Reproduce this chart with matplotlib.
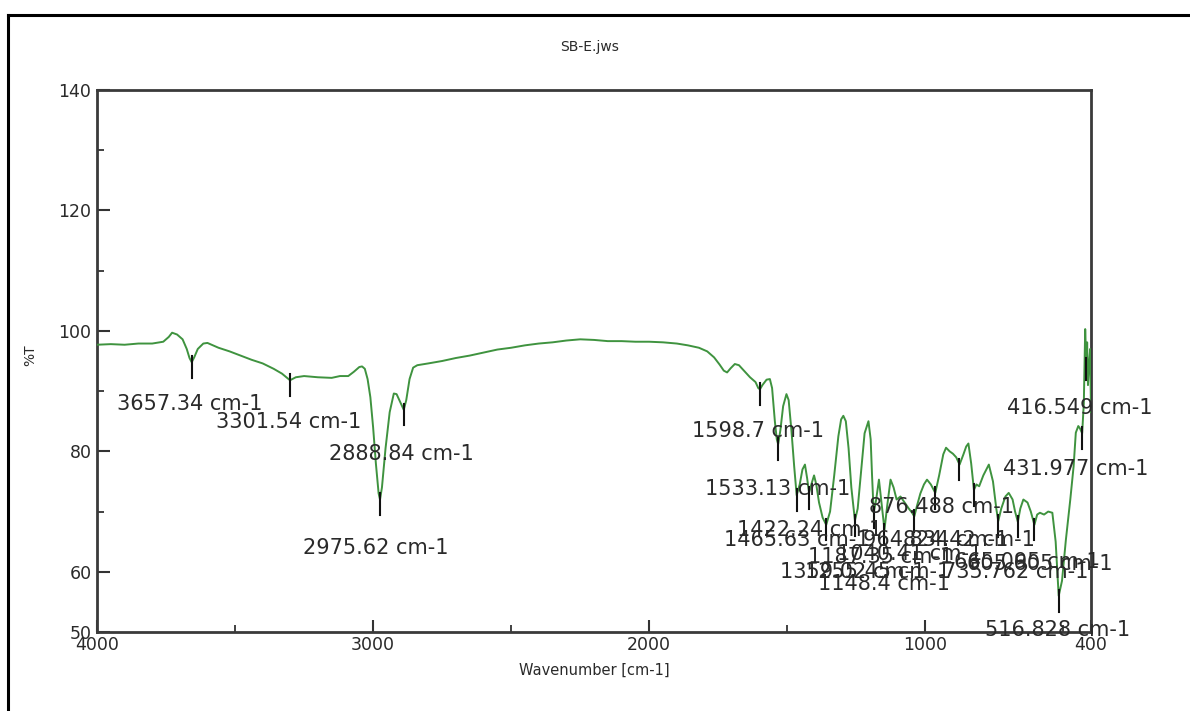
import matplotlib
matplotlib.use("Agg")
import matplotlib.pyplot as plt
from matplotlib.lines import Line2D
from matplotlib.ticker import FixedLocator

# ---------------- data ----------------
wavenumber = [4000, 3950, 3900, 3850, 3800, 3760, 3740, 3728, 3710, 3690, 3675, 3665, 3657,
              3648, 3635, 3615, 3600, 3560, 3520, 3480, 3440, 3400, 3360, 3330, 3301, 3280,
              3250, 3200, 3150, 3120, 3090, 3070, 3050, 3040, 3030, 3020, 3010, 3000, 2990,
              2980, 2975, 2968, 2955, 2940, 2925, 2915, 2900, 2889, 2880, 2868, 2855, 2840,
              2800, 2750, 2700, 2650, 2600, 2550, 2500, 2450, 2400, 2350, 2300, 2250, 2200,
              2150, 2100, 2050, 2000, 1950, 1900, 1860, 1820, 1790, 1765, 1745, 1730, 1718,
              1705, 1690, 1675, 1655, 1635, 1615, 1605, 1599, 1590, 1575, 1563, 1555, 1545,
              1538, 1533, 1525, 1515, 1503, 1495, 1485, 1475, 1466, 1455, 1445, 1436, 1428,
              1421, 1413, 1403, 1395, 1385, 1372, 1359, 1345, 1330, 1315, 1305, 1297, 1288,
              1278, 1268, 1255, 1245, 1232, 1220, 1206, 1198, 1193, 1187, 1178, 1168, 1160,
              1148, 1138, 1126, 1115, 1104, 1090, 1075, 1060, 1048, 1040, 1030, 1018, 1005,
              994, 980, 964, 950, 935, 925, 912, 900, 888, 876, 862, 852, 844, 834, 824, 815,
              805, 790, 770, 755, 743, 736, 725, 710, 698, 684, 675, 665, 656, 645, 630, 618,
              605, 595, 585, 570, 555, 540, 528, 517, 505, 491, 475, 463, 455, 446, 440, 432,
              426, 421, 418, 416, 414, 411, 407, 403, 400]
transmittance = [97.7, 97.8, 97.7, 97.9, 97.9, 98.2, 99.0, 99.7, 99.4, 98.6, 97.0, 95.5, 94.8,
                 95.6, 97.0, 97.9, 98.0, 97.2, 96.6, 95.9, 95.2, 94.6, 93.7, 92.9, 91.8, 92.3,
                 92.5, 92.3, 92.2, 92.5, 92.5, 93.2, 94.0, 94.1, 93.7, 92.0, 89.0, 84.0, 78.0,
                 73.0, 72.0, 74.0, 80.5, 86.5, 89.6, 89.5, 88.0, 86.9, 88.5, 92.0, 93.9, 94.3,
                 94.6, 95.0, 95.5, 95.9, 96.4, 96.9, 97.2, 97.6, 97.9, 98.1, 98.4, 98.6, 98.5,
                 98.3, 98.3, 98.2, 98.2, 98.1, 97.9, 97.6, 97.2, 96.6, 95.6, 94.4, 93.4, 93.1,
                 93.8, 94.5, 94.3, 93.3, 92.3, 91.5, 90.5, 90.3, 91.0, 91.9, 92.0, 90.5, 85.0,
                 82.0, 81.2, 83.5, 87.5, 89.5, 88.5, 83.5, 77.5, 72.7, 74.5, 77.0, 77.8, 75.5,
                 73.1, 74.5, 76.0, 74.5, 71.5, 69.0, 67.8, 70.0, 76.0, 82.5, 85.3, 85.9, 85.0,
                 80.5, 74.0, 68.5, 70.5, 77.0, 83.0, 85.0, 82.0, 76.0, 69.8, 72.0, 75.3, 72.0,
                 67.0, 71.0, 75.3, 74.0, 72.0, 72.5, 71.5, 70.5, 69.8, 69.2, 71.0, 73.0, 74.5,
                 75.3, 74.5, 73.1, 76.0, 79.5, 80.6, 80.0, 79.6, 79.0, 77.8, 79.5, 80.8, 81.3,
                 78.0, 73.6, 74.5, 74.2, 76.0, 77.8, 75.0, 70.5, 68.4, 70.5, 72.5, 73.1, 72.0,
                 70.0, 68.3, 70.5, 72.0, 71.5, 70.0, 67.8, 69.5, 69.8, 69.5, 70.0, 69.8, 65.0,
                 56.0, 58.5, 65.3, 72.0, 77.5, 83.1, 84.2, 83.8, 83.0, 88.0, 100.3, 96.0, 94.2,
                 98.1, 91.0, 94.5, 97.0, 86.5]

peak_wn = [3657.34, 3301.54, 2975.62, 2888.84, 1598.7, 1533.13, 1465.63, 1422.24, 1359.02,
           1255.45, 1187.35, 1148.4, 1040.41, 964.834, 876.488, 824.42, 735.762, 665.095,
           605.605, 516.828, 431.977, 416.549]
peak_T = [94.8, 91.8, 72.0, 86.9, 90.3, 81.2, 72.7, 73.1, 67.8, 68.5, 69.8, 67.0, 69.2,
          73.1, 77.8, 73.6, 68.4, 68.3, 67.8, 56.0, 83.0, 94.5]
peak_labels = ["3657.34 cm-1", "3301.54 cm-1", "2975.62 cm-1", "2888.84 cm-1", "1598.7 cm-1",
               "1533.13 cm-1", "1465.63 cm-1", "1422.24 cm-1", "1359.02 cm-1", "1255.45 cm-1",
               "1187.35 cm-1", "1148.4 cm-1", "1040.41 cm-1", "964.834 cm-1", "876.488 cm-1",
               "824.42 cm-1", "735.762 cm-1", "665.095 cm-1", "605.605 cm-1", "516.828 cm-1",
               "431.977 cm-1", "416.549 cm-1"]

x_ticks = [4000, 3000, 2000, 1000, 400]
x_minor = [3500, 2500, 1500, 500]
y_ticks = [50, 60, 80, 100, 120, 140]
y_minor = [70, 90, 110, 130]

# label anchor positions (data coords, left/center anchored)
label_pos = [(3928, 87.8), (3569, 84.8), (3254, 64.0), (3160, 79.5), (1845, 83.3),
             (1798, 73.7), (1729, 65.3), (1682, 67.0), (1526, 60.0), (1436, 60.0),
             (1425, 62.5), (1389, 58.0), (1320, 63.0), (1226, 65.3), (1205, 70.7),
             (1080, 65.3), (935, 60.0), (895, 61.7), (850, 61.3), (784, 50.4),
             (719, 77.0), (704, 87.2)]

# ---------------- figure ----------------
W, H = 1190, 711
fig = plt.figure(figsize=(W / 100, H / 100), dpi=100)
fig.patch.set_facecolor("white")

# outer frame (top and left edges visible)
fig.add_artist(Line2D([8 / W, 1.0], [1 - 15 / H, 1 - 15 / H], transform=fig.transFigure,
                      color="black", lw=2.2))
fig.add_artist(Line2D([8 / W, 8 / W], [0, 1 - 15 / H], transform=fig.transFigure,
                      color="black", lw=2.2))

ax = fig.add_axes([97 / W, (H - 632) / H, (1091 - 97) / W, (632 - 90) / H])
ax.plot(wavenumber, transmittance, color="#3f933f", lw=1.4, zorder=3)

for wn, t in zip(peak_wn, peak_T):
    ax.plot([wn, wn], [t + 1.0, t - 2.6], color="#111111", lw=1.5, zorder=4)

for (lx, ly), txt in zip(label_pos, peak_labels):
    ax.text(lx, ly, txt, ha="left", va="center", fontsize=15, color="#2a2a2a",
            family="DejaVu Sans", zorder=5)

ax.set_xlim(4000, 400)
ax.set_ylim(50, 140)
ax.set_xticks(x_ticks)
ax.set_yticks(y_ticks)
ax.xaxis.set_minor_locator(FixedLocator(x_minor))
ax.yaxis.set_minor_locator(FixedLocator(y_minor))
ax.tick_params(which="major", direction="in", length=9, width=1.5, color="#333333",
               labelsize=12.5, labelcolor="#2a2a2a")
ax.tick_params(which="minor", direction="in", length=5, width=1.3, color="#333333")
ax.tick_params(axis="x", pad=3)
ax.tick_params(axis="y", pad=4)
for sp in ax.spines.values():
    sp.set_color("#3a3a3a")
    sp.set_linewidth(2.0)

ax.set_xlabel("Wavenumber [cm-1]", fontsize=10.5, color="#2a2a2a", labelpad=6)
fig.text(30 / W, 1 - 355 / H, "%T", rotation=90, fontsize=10, color="#2a2a2a",
         ha="center", va="center")
fig.text(590 / W, 1 - 47 / H, "SB-E.jws", fontsize=10, color="#2a2a2a",
         ha="center", va="center")

fig.savefig("out.png", dpi=100)
